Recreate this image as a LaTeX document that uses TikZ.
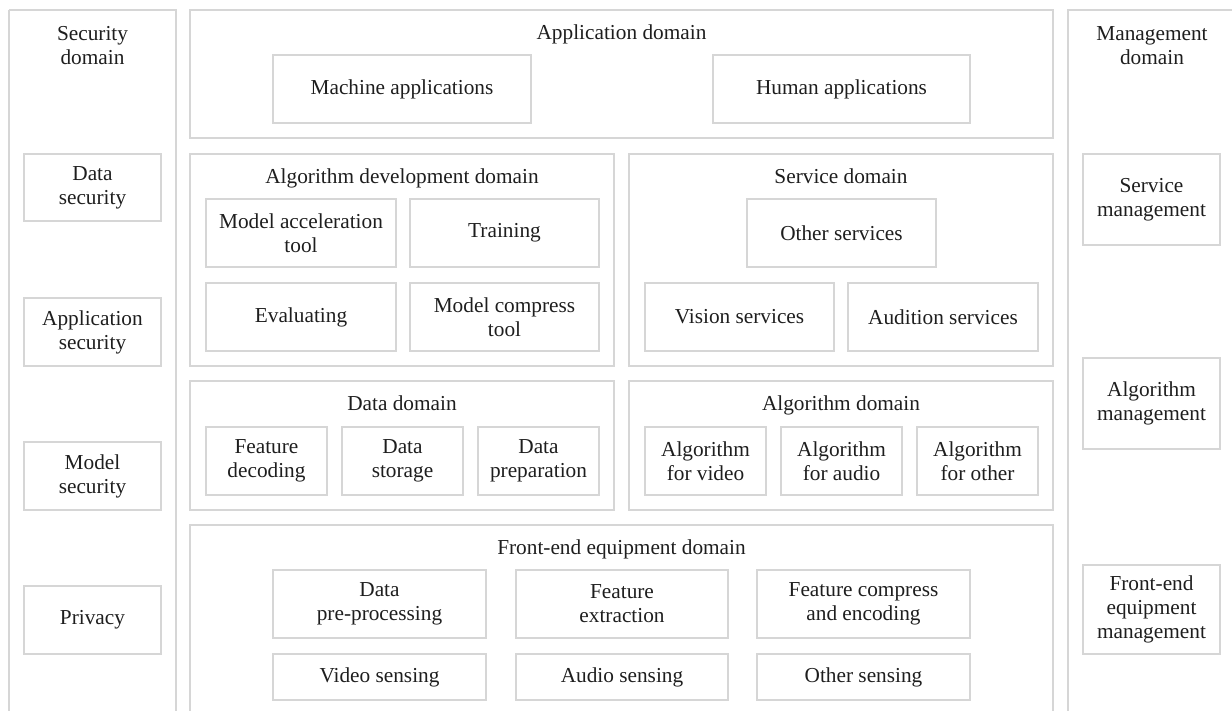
\documentclass[tikz,border=0pt]{standalone}
\usepackage{fontspec}
\setmainfont{Liberation Serif}
\definecolor{linegray}{HTML}{D6D6D6}
\definecolor{inkgray}{HTML}{1E1E1E}
\tikzset{
  base/.style={inner sep=0pt, outer sep=0pt},
  cell/.style={base, draw=linegray, line width=1.6pt, align=center, text=inkgray},
  frame/.style={draw=linegray, line width=1.6pt},
  region/.style={base},
  title/.style={inner sep=0pt, align=center, text=inkgray},
}
% a rectangle node spanning two corner points (x1,y1) (x2,y2)
\newcommand\spanbox[7]{%
  \pgfmathsetmacro\bxc{(#3+#5)/2}\pgfmathsetmacro\byc{(#4+#6)/2}%
  \pgfmathsetmacro\bxw{#5-#3}\pgfmathsetmacro\byh{#6-#4}%
  \node[#1, minimum width=\bxw pt, minimum height=\byh pt] (#2) at (\bxc,\byc) {#7};}
\newcommand\cellbox[6]{\spanbox{cell}{#1}{#2}{#3}{#4}{#5}{#6}}
\newcommand\regionbox[5]{\spanbox{region}{#1}{#2}{#3}{#4}{#5}{}}
\begin{document}
\begin{tikzpicture}[x=1pt, y=-1pt, font=\fontsize{21.3}{24}\selectfont]
\useasboundingbox (0,0) rectangle (1232,710);

% ---------- security domain (left column, open at the bottom) ----------
\regionbox{secdom}{9}{10}{176}{712}
\draw[frame] (secdom.north west) -- (secdom.south west) (secdom.north west) -- (secdom.north east) -- (secdom.south east);
\node[title, anchor=north] (sectitle) at (92.5,26) {Security\\domain};
\cellbox{dsec}{24}{154}{161}{221}{Data\\security}
\cellbox{asec}{24}{298}{161}{366}{Application\\security}
\cellbox{msec}{24}{442}{161}{510}{Model\\security}
\cellbox{priv}{24}{586}{161}{654}{Privacy}

% ---------- management domain (right column, open at bottom and right) ----------
\regionbox{mgmtdom}{1068}{10}{1236}{712}
\draw[frame] (mgmtdom.south west) -- (mgmtdom.north west) -- (mgmtdom.north east);
\node[title, anchor=north] (mgmttitle) at (1152,26) {Management\\domain};
\cellbox{smgmt}{1083}{154}{1220}{245}{Service\\management}
\cellbox{amgmt}{1083}{358}{1220}{449}{Algorithm\\management}
\cellbox{fmgmt}{1083}{565}{1220}{654}{Front-end\\equipment\\management}

% ---------- application domain ----------
\cellbox{appdom}{190}{10}{1053}{138}{}
\node[title, anchor=base] (apptitle) at (621.5,39) {Application domain};
\cellbox{machine}{273}{55}{531}{123}{Machine applications}
\cellbox{human}{713}{55}{970}{123}{Human applications}

% ---------- algorithm development domain ----------
\cellbox{algdev}{190}{154}{614}{366}{}
\node[title, anchor=base] (algdevtitle) at (402,183) {Algorithm development domain};
\cellbox{mat}{206}{199}{396}{267}{Model acceleration\\tool}
\cellbox{train}{410}{199}{599}{267}{Training}
\cellbox{eval}{206}{283}{396}{351}{Evaluating}
\cellbox{mct}{410}{283}{599}{351}{Model compress\\tool}

% ---------- service domain ----------
\cellbox{svcdom}{629}{154}{1053}{366}{}
\node[title, anchor=base] (svctitle) at (841,183) {Service domain};
\cellbox{othersvc}{747}{199}{936}{267}{Other services}
\cellbox{vision}{645}{283}{834}{351}{Vision services}
\cellbox{audition}{848}{283}{1038}{351}{Audition services}

% ---------- data domain ----------
\cellbox{datadom}{190}{381}{614}{510}{}
\node[title, anchor=base] (datatitle) at (402,410) {Data domain};
\cellbox{fdec}{206}{427}{327}{495}{Feature\\decoding}
\cellbox{dsto}{342}{427}{463}{495}{Data\\storage}
\cellbox{dprep}{478}{427}{599}{495}{Data\\preparation}

% ---------- algorithm domain ----------
\cellbox{algdom}{629}{381}{1053}{510}{}
\node[title, anchor=base] (algtitle) at (841,410) {Algorithm domain};
\cellbox{avideo}{645}{427}{766}{495}{Algorithm\\for video}
\cellbox{aaudio}{781}{427}{902}{495}{Algorithm\\for audio}
\cellbox{aother}{917}{427}{1038}{495}{Algorithm\\for other}

% ---------- front-end equipment domain (open at the bottom) ----------
\regionbox{fedom}{190}{525}{1053}{712}
\draw[frame] (fedom.south west) -- (fedom.north west) -- (fedom.north east) -- (fedom.south east);
\node[title, anchor=base] (fetitle) at (621.5,554) {Front-end equipment domain};
\cellbox{dpp}{273}{570}{486}{638}{Data\\pre-processing}
\cellbox{fext}{516}{570}{728}{638}{Feature\\extraction}
\cellbox{fce}{757}{570}{970}{638}{Feature compress\\and encoding}
\cellbox{vsense}{273}{654}{486}{700}{Video sensing}
\cellbox{asense}{516}{654}{728}{700}{Audio sensing}
\cellbox{osense}{757}{654}{970}{700}{Other sensing}
\end{tikzpicture}
\end{document}
